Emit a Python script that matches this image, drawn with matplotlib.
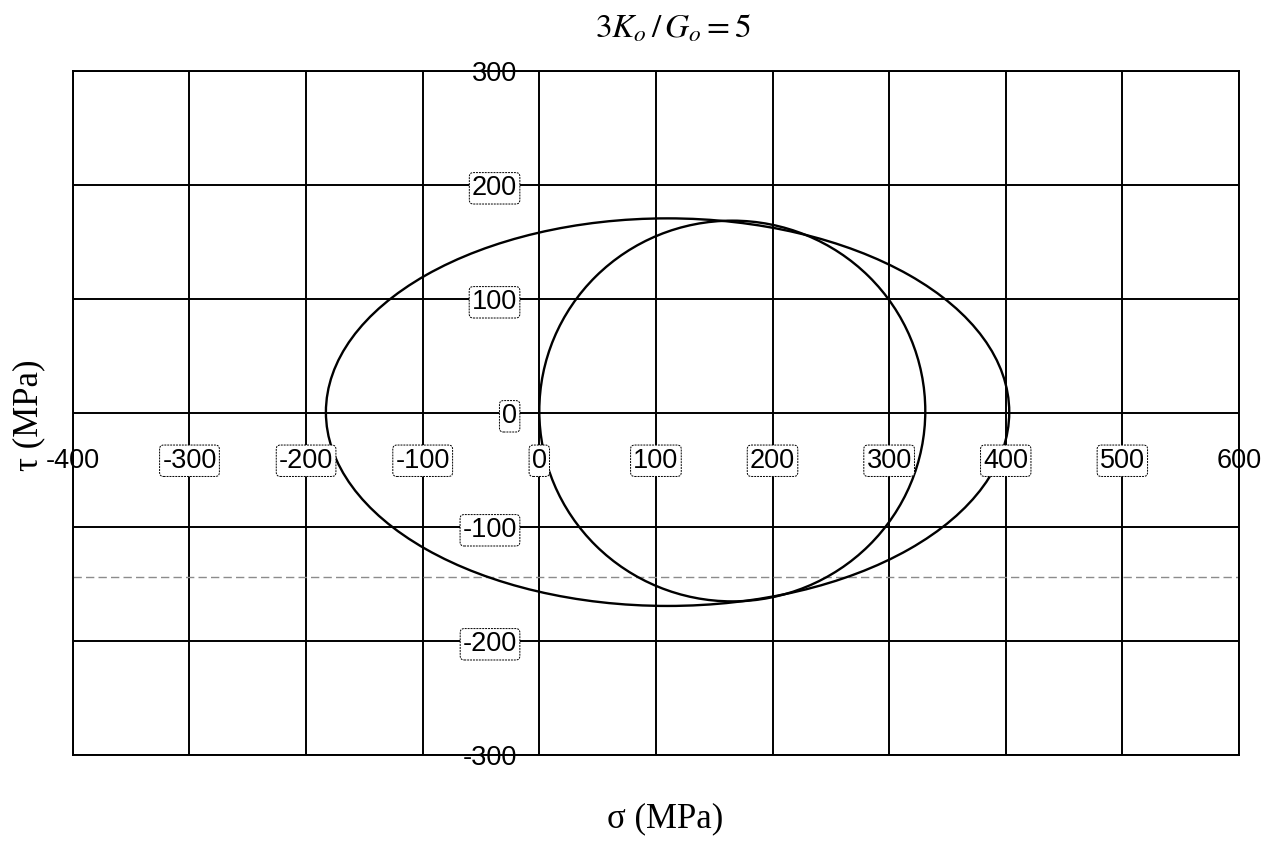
import numpy as np
import matplotlib.pyplot as plt
from matplotlib.patches import Ellipse

plt.rcParams['mathtext.fontset'] = 'stix'

# grid / tick values
sigma_ticks = [-400, -300, -200, -100, 0, 100, 200, 300, 400, 500, 600]
tau_ticks = [-300, -200, -100, 0, 100, 200, 300]

# outer yield curve: centre and extent (MPa)
outer_center = (110, 1)
outer_width = 586      # from about -183 to 403
outer_height = 340     # from about -169 to 171

# inner circle (Mohr circle): centre and extent in MPa
circle_center = (165.5, 2)
circle_width = 331
circle_height = 334

# faint scanner line across the plot
scan_tau = -143.5

fig = plt.figure(figsize=(12.74, 8.42), dpi=100)
ax = fig.add_axes([0.0572, 0.103, 0.9153, 0.8123])

ax.set_xlim(sigma_ticks[0], sigma_ticks[-1])
ax.set_ylim(tau_ticks[0], tau_ticks[-1])
ax.set_xticks(sigma_ticks)
ax.set_yticks(tau_ticks)
ax.tick_params(length=0, labelbottom=False, labelleft=False)
ax.grid(True, color='black', lw=1.4, zorder=1)
ax.set_axisbelow(True)
for sp in ax.spines.values():
    sp.set_linewidth(1.4)
    sp.set_color('black')

ax.axhline(scan_tau, color='0.55', lw=1.0, ls=(0, (6, 3)), zorder=1)

ax.add_patch(Ellipse(outer_center, outer_width, outer_height,
                     fill=False, ec='black', lw=1.7, zorder=3))
ax.add_patch(Ellipse(circle_center, circle_width, circle_height,
                     fill=False, ec='black', lw=1.7, zorder=3))

box = dict(boxstyle='round,pad=0.1,rounding_size=0.15', fc='white',
           ec='black', lw=0.7, ls=(0, (2, 1)))
tick_font = dict(family=['Liberation Sans', 'DejaVu Sans'], fontsize=19.5)

# sigma labels sit just below the tau = 0 line
for s in sigma_ticks:
    end = s in (sigma_ticks[0], sigma_ticks[-1])
    ax.text(s, -39, str(s), ha='center', va='center_baseline', zorder=5,
            bbox=None if end else box, **tick_font)

# tau labels sit just left of the sigma = 0 line
for t in tau_ticks:
    end = t in (tau_ticks[0], tau_ticks[-1])
    ax.text(-19, t, str(t), ha='right', va='center_baseline', zorder=5,
            bbox=None if end else box, **tick_font)

serif = ['Liberation Serif', 'DejaVu Serif']
fig.text(0.528, 0.956, r'$3K_o\,/\,G_o = 5$', ha='center', va='baseline',
         fontsize=24)
fig.text(0.522, 0.017, 'σ (MPa)', ha='center', va='baseline',
         family=serif, fontsize=25)
fig.text(0.023, 0.507, 'τ (MPa)', ha='center', va='center', rotation=90,
         family=serif, fontsize=25)

fig.savefig('out.png', dpi=100)
